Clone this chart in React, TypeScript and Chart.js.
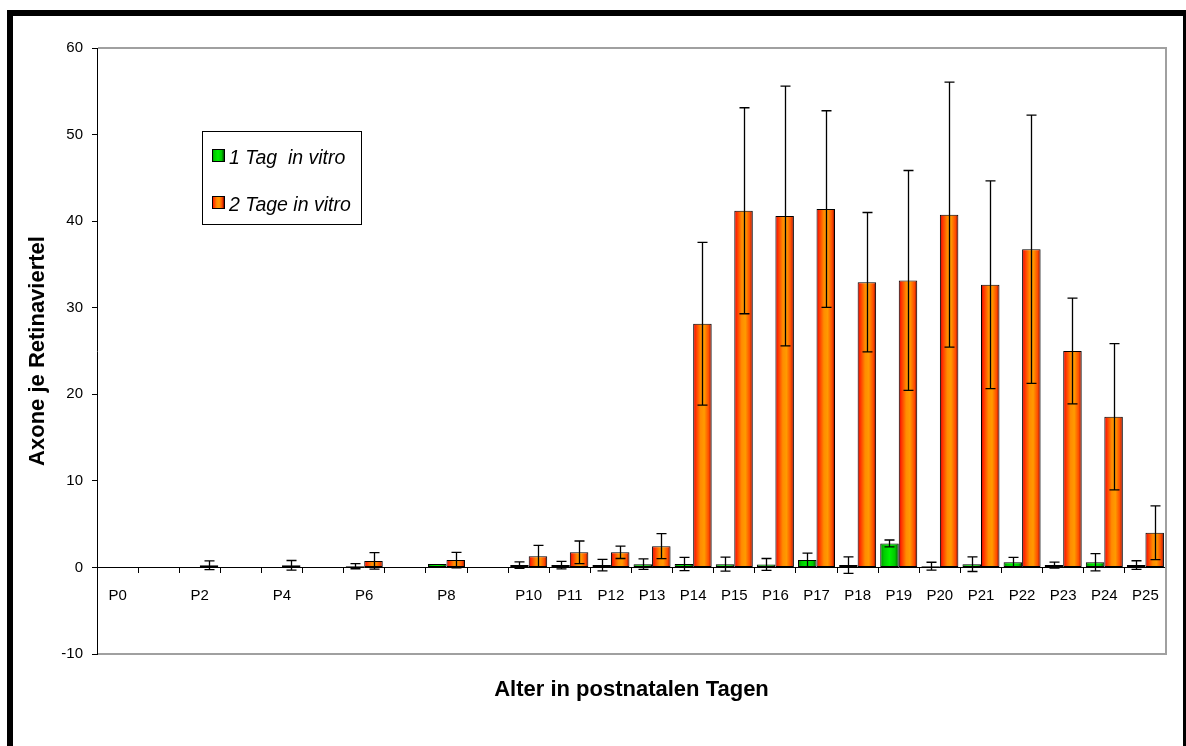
import React, { useEffect, useRef } from 'react';
import { Chart, registerables } from 'chart.js';

Chart.register(...registerables);

// ---------- data ----------
const categories = [
  'P0', 'P1', 'P2', 'P3', 'P4', 'P5', 'P6', 'P7', 'P8', 'P9', 'P10', 'P11', 'P12',
  'P13', 'P14', 'P15', 'P16', 'P17', 'P18', 'P19', 'P20', 'P21', 'P22', 'P23', 'P24', 'P25',
];
const tickLabels = [
  'P0', '', 'P2', '', 'P4', '', 'P6', '', 'P8', '', 'P10', 'P11', 'P12',
  'P13', 'P14', 'P15', 'P16', 'P17', 'P18', 'P19', 'P20', 'P21', 'P22', 'P23', 'P24', 'P25',
];
const seriesNames = ['1 Tag  in vitro', '2 Tage in vitro'];
const oneDay = [
  0, null, 0, null, 0, null, 0.15, null, 0.4, null, 0.27, 0.27, 0.27,
  0.38, 0.4, 0.38, 0.35, 0.85, 0.27, 2.77, 0.15, 0.38, 0.6, 0.27, 0.6, 0.27,
];
const oneDayErr = [
  0, null, 0, null, 0, null, 0.3, null, 0, null, 0.38, 0.43, 0.66,
  0.6, 0.77, 0.8, 0.68, 0.8, 0.95, 0.4, 0.45, 0.85, 0.55, 0.35, 1.0, 0.5,
];
const twoDays = [
  0, null, 0.25, null, 0.25, null, 0.75, null, 0.85, null, 1.3, 1.75, 1.75,
  2.46, 28.15, 41.2, 40.6, 41.4, 32.95, 33.15, 40.75, 32.65, 36.75, 25.0, 17.4, 4.0,
];
const twoDaysErr = [
  0, null, 0.5, null, 0.55, null, 0.95, null, 0.9, null, 1.25, 1.3, 0.72,
  1.45, 9.4, 11.9, 15.0, 11.35, 8.05, 12.7, 15.3, 12.0, 15.5, 6.1, 8.45, 3.1,
];
const errors = [oneDayErr, twoDaysErr];
const yMin = -10;
const yMax = 60;
const yStep = 10;
const yTitle = 'Axone je Retinaviertel';
const xTitle = 'Alter in postnatalen Tagen';

// ---------- styles ----------
const FONT = "'Liberation Sans', Arial, Helvetica, sans-serif";
const CAT_PCT = 0.9;
const greenStops: [number, string][] = [
  [0, '#008800'], [0.2, '#00cc00'], [0.5, '#00f000'], [0.8, '#00c800'], [1, '#004c00'],
];
const orangeStops: [number, string][] = [
  [0, '#c80000'], [0.12, '#ff2a00'], [0.4, '#ff8c00'], [0.6, '#ff9a00'], [0.85, '#ff4a00'], [1, '#7a0000'],
];
const stopsFor = [greenStops, orangeStops];

function makeGrad(ctx: CanvasRenderingContext2D, left: number, w: number, stops: [number, string][]) {
  const g = ctx.createLinearGradient(left, 0, left + w, 0);
  stops.forEach(([o, c]) => g.addColorStop(o, c));
  return g;
}

function barBg(c: any) {
  const chart = c.chart;
  const xs = chart.scales && chart.scales.x;
  const fallback = c.datasetIndex === 0 ? '#00dd00' : '#ff8800';
  if (!chart.chartArea || !xs || c.dataIndex === undefined) return fallback;
  const center = xs.getPixelForValue(c.dataIndex);
  const step = xs.getPixelForValue(1) - xs.getPixelForValue(0);
  const w = (step * CAT_PCT) / 2;
  const left = c.datasetIndex === 0 ? center - w : center;
  return makeGrad(chart.ctx, left, w, stopsFor[c.datasetIndex]);
}

const whiteBg = {
  id: 'whiteBg',
  beforeDraw(chart: any) {
    const { ctx, width, height } = chart;
    ctx.save();
    ctx.fillStyle = '#fff';
    ctx.fillRect(0, 0, width, height);
    ctx.restore();
  },
};

const plotFrame = {
  id: 'plotFrame',
  beforeDatasetsDraw(chart: any) {
    const { ctx, chartArea: a } = chart;
    ctx.save();
    ctx.strokeStyle = '#a0a0a0';
    ctx.lineWidth = 2;
    ctx.beginPath();
    ctx.moveTo(a.left + 1, a.top);
    ctx.lineTo(a.right, a.top);
    ctx.lineTo(a.right, a.bottom);
    ctx.lineTo(a.left + 1, a.bottom);
    ctx.stroke();
    ctx.restore();
  },
};

const errorBars = {
  id: 'errorBars',
  afterDatasetsDraw(chart: any) {
    const { ctx } = chart;
    const ys = chart.scales.y;
    ctx.save();
    ctx.strokeStyle = '#000';
    ctx.lineWidth = 1.3;
    chart.data.datasets.forEach((ds: any, di: number) => {
      const meta = chart.getDatasetMeta(di);
      meta.data.forEach((bar: any, i: number) => {
        const v = ds.data[i];
        const e = errors[di][i];
        if (v == null || !e) return;
        const x = Math.round(bar.x) + 0.5;
        const yt = ys.getPixelForValue(v + e);
        const yb = ys.getPixelForValue(v - e);
        ctx.beginPath();
        ctx.moveTo(x, yt);
        ctx.lineTo(x, yb);
        ctx.moveTo(x - 5, yt);
        ctx.lineTo(x + 5, yt);
        ctx.moveTo(x - 5, yb);
        ctx.lineTo(x + 5, yb);
        ctx.stroke();
      });
    });
    ctx.restore();
  },
};

const LEGEND = { x: 202, y: 131, w: 159, h: 93 };

const legendBox = {
  id: 'legendBox',
  afterDraw(chart: any) {
    const { ctx } = chart;
    ctx.save();
    ctx.fillStyle = '#fff';
    ctx.fillRect(LEGEND.x, LEGEND.y, LEGEND.w, LEGEND.h);
    ctx.strokeStyle = '#000';
    ctx.lineWidth = 1;
    ctx.strokeRect(LEGEND.x + 0.5, LEGEND.y + 0.5, LEGEND.w, LEGEND.h);
    chart.data.datasets.forEach((ds: any, di: number) => {
      const sy = LEGEND.y + 18 + di * 47;
      const sx = LEGEND.x + 10;
      ctx.fillStyle = makeGrad(ctx, sx, 12, stopsFor[di]);
      ctx.fillRect(sx, sy, 12, 12);
      ctx.strokeStyle = '#000';
      ctx.strokeRect(sx + 0.5, sy + 0.5, 12, 12);
      ctx.fillStyle = '#000';
      ctx.font = `italic 19.5px ${FONT}`;
      ctx.textBaseline = 'alphabetic';
      ctx.textAlign = 'left';
      ctx.fillText(ds.label, sx + 17, sy + 15);
    });
    ctx.restore();
  },
};

const xTitlePlugin = {
  id: 'xTitlePlugin',
  afterDraw(chart: any) {
    const { ctx, chartArea: a } = chart;
    ctx.save();
    ctx.fillStyle = '#000';
    ctx.font = `bold 22px ${FONT}`;
    ctx.textAlign = 'center';
    ctx.textBaseline = 'middle';
    ctx.fillText(xTitle, (a.left + a.right) / 2, a.bottom + 36);
    ctx.restore();
  },
};

export default function App() {
  const ref = useRef<HTMLCanvasElement | null>(null);

  useEffect(() => {
    if (!ref.current) return;
    const chart = new Chart(ref.current, {
      type: 'bar',
      data: {
        labels: categories,
        datasets: [
          {
            label: seriesNames[0],
            data: oneDay as any,
            backgroundColor: barBg as any,
            borderColor: '#000',
            borderWidth: 1,
            borderSkipped: false,
            categoryPercentage: CAT_PCT,
            barPercentage: 1,
          },
          {
            label: seriesNames[1],
            data: twoDays as any,
            backgroundColor: barBg as any,
            borderColor: '#000',
            borderWidth: 1,
            borderSkipped: false,
            categoryPercentage: CAT_PCT,
            barPercentage: 1,
          },
        ],
      },
      options: {
        responsive: false,
        devicePixelRatio: 1,
        animation: false,
        events: [],
        layout: { padding: { left: 19, top: 48, right: 20, bottom: 92 } },
        plugins: {
          legend: { display: false },
          tooltip: { enabled: false },
        },
        scales: {
          x: {
            type: 'category',
            position: { y: 0 } as any,
            offset: true,
            grid: {
              offset: true,
              drawOnChartArea: false,
              drawTicks: true,
              tickLength: 5,
              color: '#000',
            },
            border: { display: true, color: '#000', width: 1 },
            ticks: {
              autoSkip: false,
              maxRotation: 0,
              minRotation: 0,
              padding: 14,
              color: '#000',
              font: { family: FONT, size: 15 },
              callback: (_v: any, i: number) => tickLabels[i],
            },
          },
          y: {
            min: yMin,
            max: yMax,
            afterFit: (s: any) => {
              s.width = 78;
            },
            grid: {
              drawOnChartArea: false,
              drawTicks: true,
              tickLength: 5,
              color: '#000',
            },
            border: { display: true, color: '#000', width: 1 },
            ticks: {
              stepSize: yStep,
              padding: 9,
              color: '#000',
              font: { family: FONT, size: 15 },
            },
            title: {
              display: true,
              text: yTitle,
              color: '#000',
              font: { family: FONT, size: 22, weight: 'bold' },
              padding: { top: 6, bottom: 0 },
            },
          },
        },
      },
      plugins: [whiteBg, plotFrame, errorBars, legendBox, xTitlePlugin],
    });
    return () => chart.destroy();
  }, []);

  return (
    <div
      style={{
        position: 'fixed',
        left: 0,
        top: 0,
        width: 1186,
        height: 746,
        overflow: 'hidden',
        background: '#fff',
      }}
    >
      <canvas ref={ref} width={1186} height={746} style={{ display: 'block' }} />
      <div
        style={{
          position: 'absolute',
          left: 7,
          top: 10,
          width: 1182,
          height: 746,
          border: '6px solid #000',
          boxSizing: 'border-box',
          pointerEvents: 'none',
        }}
      />
    </div>
  );
}
